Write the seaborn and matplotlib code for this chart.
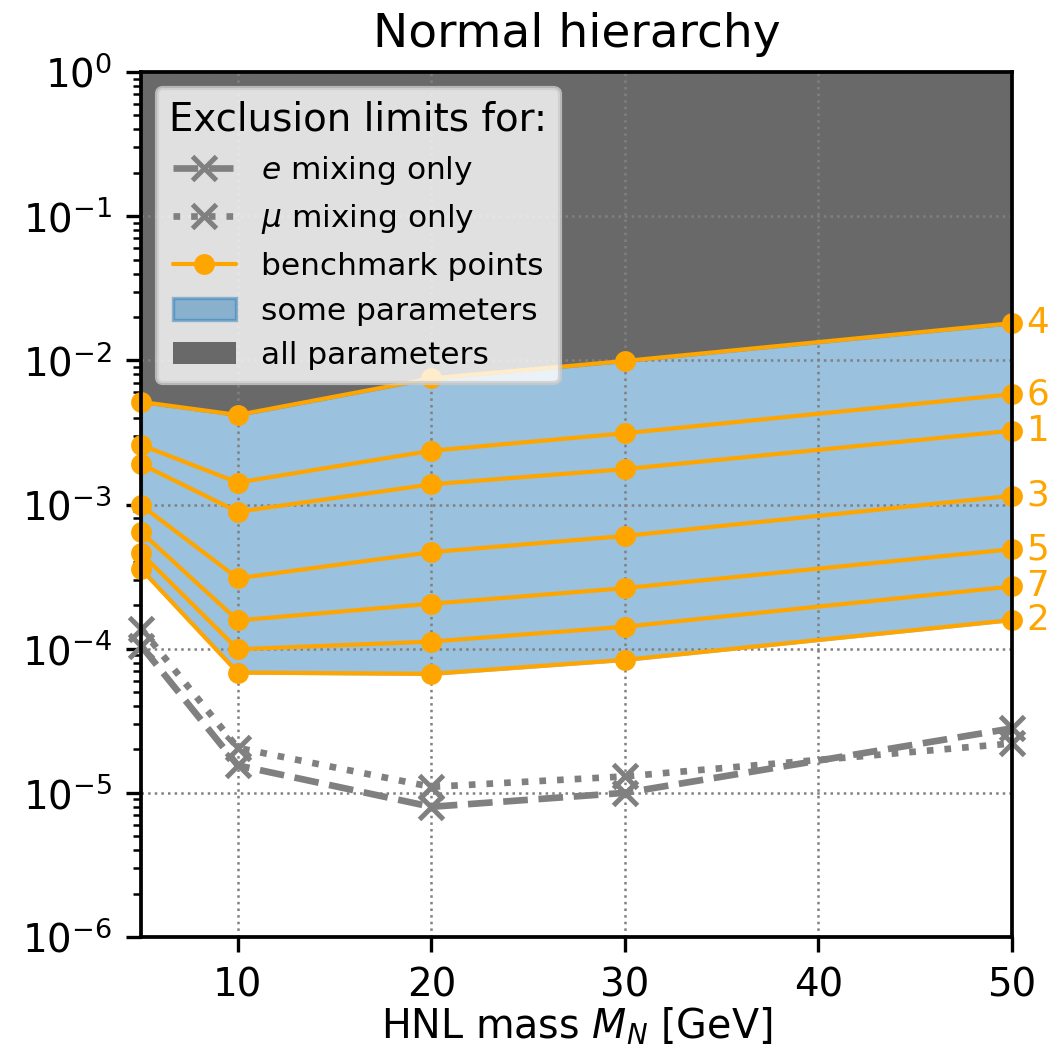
import numpy as np
import pandas as pd
import matplotlib
matplotlib.use("Agg")
import matplotlib.pyplot as plt
from matplotlib.ticker import MultipleLocator
from matplotlib.patches import Patch
import seaborn as sns

# ---------------- data ----------------
masses = [5, 10, 20, 30, 50]
bp_labels = ["4", "6", "1", "3", "5", "7", "2"]
bp4 = [5.15e-3, 4.18e-3, 7.5e-3, 9.9e-3, 1.81e-2]
bp6 = [2.59e-3, 1.42e-3, 2.36e-3, 3.12e-3, 5.82e-3]
bp1 = [1.91e-3, 8.9e-4, 1.38e-3, 1.76e-3, 3.25e-3]
bp3 = [9.9e-4, 3.08e-4, 4.67e-4, 6.05e-4, 1.15e-3]
bp5 = [6.45e-4, 1.57e-4, 2.05e-4, 2.63e-4, 4.9e-4]
bp7 = [4.6e-4, 9.9e-5, 1.12e-4, 1.42e-4, 2.7e-4]
bp2 = [3.57e-4, 6.83e-5, 6.69e-5, 8.36e-5, 1.58e-4]
e_mix = [1.05e-4, 1.55e-5, 8.0e-6, 1.0e-5, 2.8e-5]
mu_mix = [1.38e-4, 2.05e-5, 1.1e-5, 1.3e-5, 2.2e-5]

benchmarks = [bp4, bp6, bp1, bp3, bp5, bp7, bp2]

# ---------------- style ----------------
sns.set_style("ticks")
plt.rcParams["font.family"] = ["DejaVu Sans"]
plt.rcParams["mathtext.fontset"] = "dejavusans"
for k in ["text.color", "axes.labelcolor", "xtick.color", "ytick.color", "axes.edgecolor"]:
    plt.rcParams[k] = "black"

fig = plt.figure(figsize=(1053 / 300, 1054 / 300), dpi=300)
ax = fig.add_axes([141 / 1053, 1 - 937 / 1054, (1012 - 141) / 1053, (937 - 72) / 1054])

bench = np.array(benchmarks)
upper = bench.max(axis=0)
lower = bench.min(axis=0)

ax.fill_between(masses, upper, 1.0, color="#696969", lw=0, zorder=1)
ax.fill_between(masses, lower, upper, color="C0", alpha=0.45, lw=0.8, zorder=1)

lw_g = 1.6
xkw = dict(marker="x", markersize=5.6, markeredgewidth=1.2, markeredgecolor="gray")
sns.lineplot(x=masses, y=e_mix, ax=ax, color="gray", linestyle="--", lw=lw_g,
             clip_on=False, zorder=3, **xkw)
sns.lineplot(x=masses, y=mu_mix, ax=ax, color="gray", linestyle=":", lw=lw_g,
             clip_on=False, zorder=3, **xkw)
okw = dict(marker="o", markersize=5.0, markeredgewidth=0, markerfacecolor="orange")
for vals, lab in zip(benchmarks, bp_labels):
    sns.lineplot(x=masses, y=vals, ax=ax, color="orange", lw=1.0,
                 clip_on=False, zorder=4, **okw)
    ax.annotate(lab, xy=(masses[-1], vals[-1]), xytext=(3.5, 0),
                textcoords="offset points", va="center", ha="left",
                color="orange", fontsize=8.6, annotation_clip=False)

ax.set_yscale("log")
ax.set_xlim(5, 50)
ax.set_ylim(1e-6, 1)
ax.xaxis.set_major_locator(MultipleLocator(10))
ax.grid(True, which="major", linestyle=":", color="gray", lw=0.6)
ax.set_axisbelow("line")
for sp in ax.spines.values():
    sp.set_visible(True)
    sp.set_linewidth(0.9)
    sp.set_color("black")
    sp.set_zorder(5)
ax.tick_params(labelsize=9.3, direction="out", colors="black")

ax.set_title("Normal hierarchy", fontsize=11.3)
ax.set_xlabel("HNL mass $M_N$ [GeV]", fontsize=9.5, labelpad=0.5)

handles = [
    plt.Line2D([], [], color="gray", linestyle="--", lw=lw_g, **xkw),
    plt.Line2D([], [], color="gray", linestyle=":", lw=lw_g, **xkw),
    plt.Line2D([], [], color="orange", lw=1.0, **okw),
    Patch(facecolor="C0", alpha=0.45, edgecolor="C0", lw=0.8),
    Patch(facecolor="#696969", lw=0),
]
labels = ["$e$ mixing only", "$\\mu$ mixing only", "benchmark points",
          "some parameters", "all parameters"]
leg = ax.legend(handles, labels, loc="upper left", title="Exclusion limits for:",
                fontsize=7.5, title_fontsize=9.3, framealpha=0.8, facecolor="white",
                edgecolor="0.8")
leg.set_zorder(10)

fig.savefig("out.png", dpi=300)
